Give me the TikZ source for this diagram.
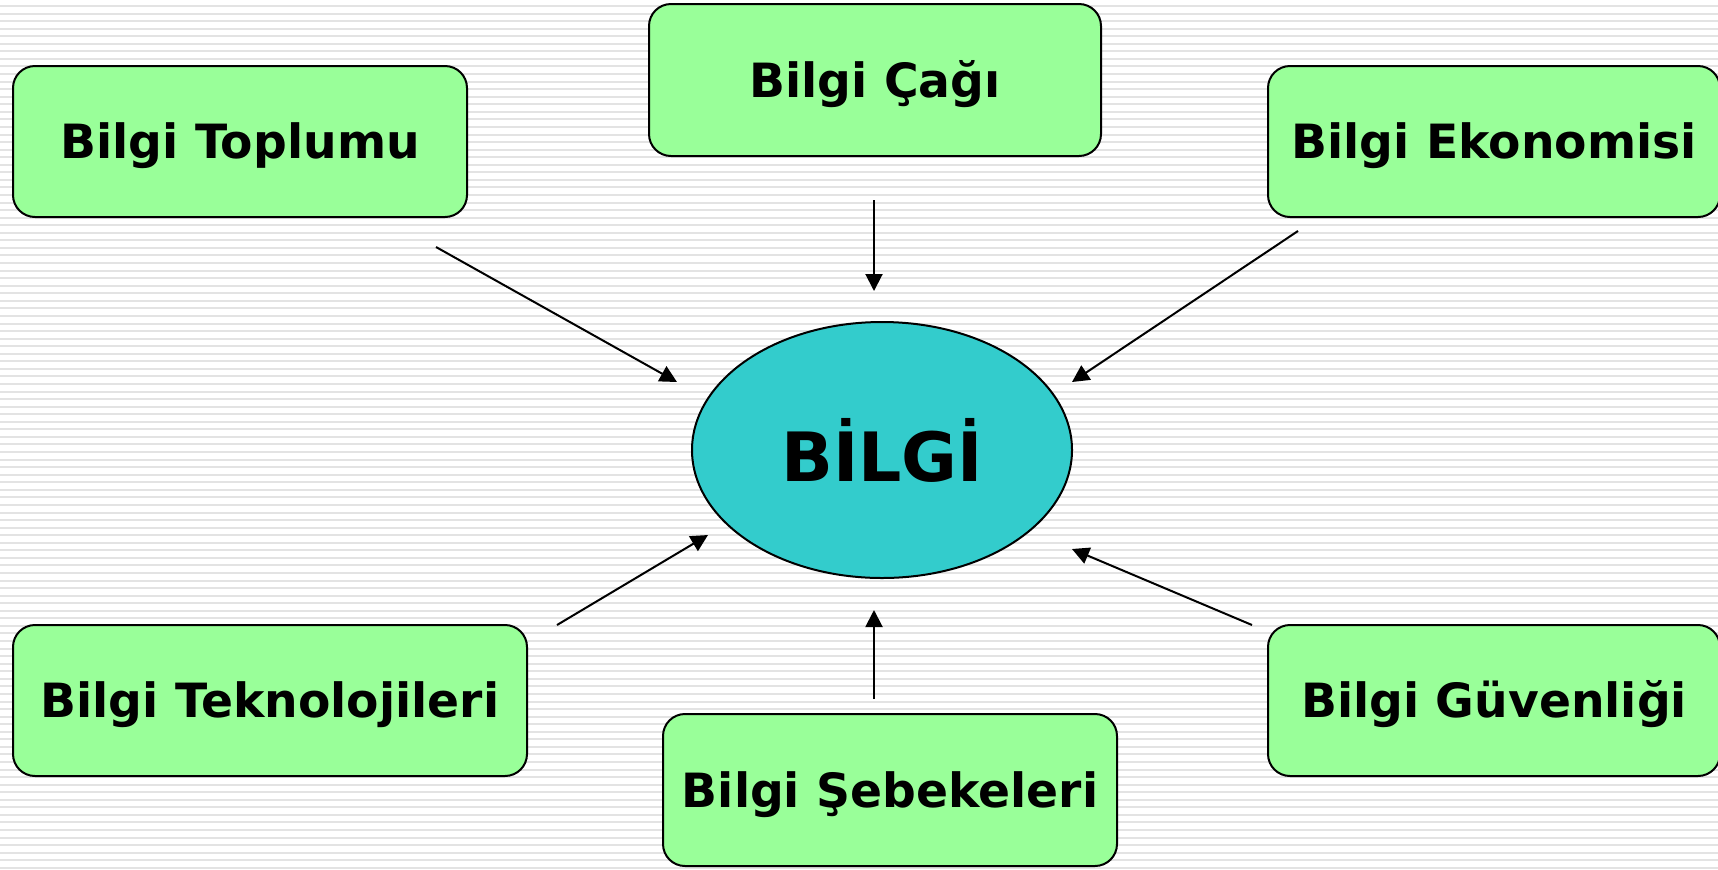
\documentclass[tikz,border=0pt]{standalone}
\usepackage{fontspec}
\setmainfont{DejaVu Sans}
\usetikzlibrary{arrows.meta,shapes.geometric}
\definecolor{boxgreen}{HTML}{99FF99}
\definecolor{ellcyan}{HTML}{33CCCC}
\definecolor{stripegray}{HTML}{E3E3E3}
\begin{document}
\begin{tikzpicture}[x=0.5pt,y=-0.5pt,
  box/.style={draw=black,line width=1pt,fill=boxgreen,rounded corners=11pt,
    font=\bfseries\fontsize{23.6}{28}\selectfont,inner sep=0pt,
    text height=17.2pt,text depth=0pt,
    minimum height=75.5pt},
  arr/.style={line width=1pt,-{Triangle[length=8.5pt,width=8.5pt]}},
  stripe/.style={stripegray,line width=1pt}]
\clip (0,0) rectangle (1718,869);
\fill[white] (0,0) rectangle (1718,869);
\foreach \i in {0,...,115} \draw[stripe] (0,\i*7.56+6) -- (1718,\i*7.56+6);

\node[box,minimum width=227pt] (toplum) at (240,141.5) {Bilgi Toplumu};
\node[box,minimum width=226pt,minimum height=76pt] (cag) at (875,80) {Bilgi Çağı};
\node[box,minimum width=226pt] (eko) at (1494,141.5) {Bilgi Ekonomisi};
\node[box,minimum width=257pt] (tek) at (270,700.5) {Bilgi Teknolojileri};
\node[box,minimum width=227pt,minimum height=76pt] (seb) at (890,790) {Bilgi Şebekeleri};
\node[box,minimum width=226pt] (guv) at (1494,700.5) {Bilgi Güvenliği};

\node[ellipse,draw=black,line width=1pt,fill=ellcyan,minimum width=190pt,minimum height=128pt,
  inner sep=0pt,font=\bfseries\fontsize{34}{40}\selectfont] (bilgi) at (882,450) {BİLGİ};

\coordinate (a1s) at (436,247);  \coordinate (a1e) at (677,382);
\coordinate (a2s) at (874,200);  \coordinate (a2e) at (874,291);
\coordinate (a3s) at (1298,231); \coordinate (a3e) at (1072,382);
\coordinate (a4s) at (557,625);  \coordinate (a4e) at (708,535);
\coordinate (a5s) at (874,699);  \coordinate (a5e) at (874,610);
\coordinate (a6s) at (1252,625); \coordinate (a6e) at (1072,549);

\draw[arr] (a1s) -- (a1e);
\draw[arr] (a2s) -- (a2e);
\draw[arr] (a3s) -- (a3e);
\draw[arr] (a4s) -- (a4e);
\draw[arr] (a5s) -- (a5e);
\draw[arr] (a6s) -- (a6e);
\end{tikzpicture}
\end{document}
